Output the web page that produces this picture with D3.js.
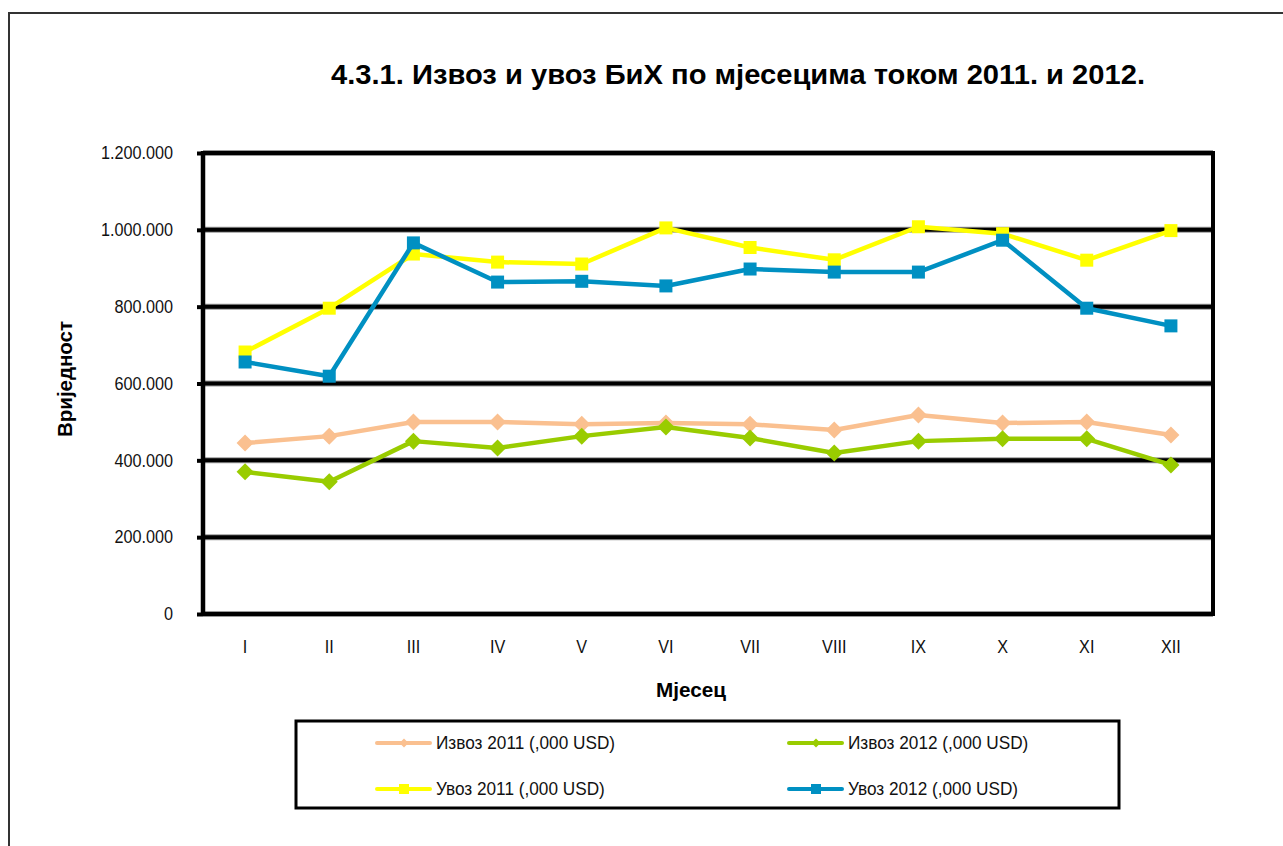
<!DOCTYPE html>
<html>
<head>
<meta charset="utf-8">
<script src="https://cdn.jsdelivr.net/npm/d3@7"></script>
<style>
  body { margin: 0; background: #fff; }
  svg { display: block; font-family: "Liberation Sans", Arial, sans-serif; }
</style>
</head>
<body>
<div id="chart"></div>
<script>
// months (roman numerals) and series values, in ,000 USD
var months = ["I", "II", "III", "IV", "V", "VI", "VII", "VIII", "IX", "X", "XI", "XII"];
var izvoz2011 = [445, 463, 500, 500, 494, 497, 494, 479, 518, 497, 500, 466].map(function(v) { return v * 1000; });
var izvoz2012 = [370, 344, 450, 432, 463, 487, 458, 419, 450, 456, 456, 388].map(function(v) { return v * 1000; });
var uvoz2011 = [682, 796, 937, 916, 911, 1005, 954, 922, 1008, 990, 921, 998].map(function(v) { return v * 1000; });
var uvoz2012 = [656, 619, 966, 864, 866, 854, 898, 890, 890, 973, 796, 750].map(function(v) { return v * 1000; });
var yTicks = [0, 200000, 400000, 600000, 800000, 1000000, 1200000];

var series = [
  { name: "Извоз 2011 (,000 USD)", values: izvoz2011, color: "#FAC090", marker: "diamond" },
  { name: "Извоз 2012 (,000 USD)", values: izvoz2012, color: "#99CC00", marker: "diamond" },
  { name: "Увоз 2011 (,000 USD)", values: uvoz2011, color: "#FFFF00", marker: "square" },
  { name: "Увоз 2012 (,000 USD)", values: uvoz2012, color: "#0090C2", marker: "square" }
];

var W = 1283, H = 846;
var plot = { left: 203, right: 1213, top: 153, bottom: 614 };

var locale = d3.formatLocale({ decimal: ",", thousands: ".", grouping: [3], currency: ["", ""] });
var fmt = locale.format(",d");

// the source font is a bit taller and narrower than Arial, squeeze it
function condense(sel, k) {
  sel.each(function() {
    var len = this.getComputedTextLength();
    d3.select(this).attr("textLength", len * k).attr("lengthAdjust", "spacingAndGlyphs");
  });
}

var svg = d3.select("#chart").append("svg")
    .attr("width", W)
    .attr("height", H);

// outer chart frame (runs off the right/bottom edge)
svg.append("rect")
    .attr("x", 9).attr("y", 13)
    .attr("width", W + 20).attr("height", H + 20)
    .attr("fill", "none")
    .attr("stroke", "#333")
    .attr("stroke-width", 2);

svg.append("text")
    .attr("x", 738).attr("y", 84)
    .attr("text-anchor", "middle")
    .attr("font-size", 27)
    .attr("font-weight", "bold")
    .attr("textLength", 814)
    .attr("lengthAdjust", "spacingAndGlyphs")
    .text("4.3.1. Извоз и увоз БиХ по мјесецима током 2011. и 2012.");

var x = d3.scaleBand().domain(months).range([plot.left, plot.right]);
var y = d3.scaleLinear().domain([0, 1200000]).range([plot.bottom, plot.top]);

// gridlines: grey halo under a heavy black rule
var grid = svg.append("g");
grid.selectAll("line.halo")
    .data(yTicks)
  .enter().append("line")
    .attr("class", "halo")
    .attr("x1", plot.left).attr("x2", plot.right)
    .attr("y1", function(d) { return y(d); })
    .attr("y2", function(d) { return y(d); })
    .attr("stroke", "#999").attr("stroke-width", 6);
grid.selectAll("line.rule")
    .data(yTicks)
  .enter().append("line")
    .attr("class", "rule")
    .attr("x1", plot.left).attr("x2", plot.right)
    .attr("y1", function(d) { return y(d); })
    .attr("y2", function(d) { return y(d); })
    .attr("stroke", "#000").attr("stroke-width", 4);

// right border of plot area
grid.append("line")
    .attr("x1", plot.right).attr("x2", plot.right)
    .attr("y1", plot.top - 2).attr("y2", plot.bottom + 2)
    .attr("stroke", "#000").attr("stroke-width", 4);

// y axis
var yAxis = svg.append("g")
    .attr("transform", "translate(" + plot.left + ",0)")
    .call(d3.axisLeft(y).tickValues(yTicks).tickFormat(fmt).tickSize(6).tickPadding(24));
yAxis.select(".domain")
    .attr("d", "M0," + (plot.top - 2) + "V" + (plot.bottom + 2))
    .attr("stroke", "#000").attr("stroke-width", 4.5);
yAxis.selectAll(".tick line").attr("stroke", "#000").attr("stroke-width", 4);
yAxis.selectAll(".tick text")
    .attr("font-family", "Liberation Sans, Arial, sans-serif")
    .attr("font-size", 18)
    .attr("fill", "#111")
    .call(condense, 0.9);

// x axis labels
var xAxis = svg.append("g")
    .attr("transform", "translate(0," + plot.bottom + ")")
    .call(d3.axisBottom(x).tickSize(0).tickPadding(26));
xAxis.select(".domain").remove();
xAxis.selectAll(".tick text")
    .attr("font-family", "Liberation Sans, Arial, sans-serif")
    .attr("font-size", 18)
    .attr("fill", "#111")
    .call(condense, 0.9);

svg.append("text")
    .attr("transform", "translate(72,379) rotate(-90)")
    .attr("text-anchor", "middle")
    .attr("font-size", 20)
    .attr("font-weight", "bold")
    .attr("textLength", 116)
    .attr("lengthAdjust", "spacingAndGlyphs")
    .text("Вриједност");

svg.append("text")
    .attr("x", 691).attr("y", 697)
    .attr("text-anchor", "middle")
    .attr("font-size", 20)
    .attr("font-weight", "bold")
    .attr("textLength", 70)
    .attr("lengthAdjust", "spacingAndGlyphs")
    .text("Мјесец");

function markerPath(type, s) {
  if (type === "diamond") return "M0," + (-s) + "L" + s + ",0L0," + s + "L" + (-s) + ",0Z";
  return "M" + (-s) + "," + (-s) + "H" + s + "V" + s + "H" + (-s) + "Z";
}

var line = d3.line()
    .x(function(d, i) { return x(months[i]) + x.bandwidth() / 2; })
    .y(function(d) { return y(d); });

series.forEach(function(s) {
  var g = svg.append("g");
  g.append("path")
      .attr("d", line(s.values))
      .attr("fill", "none")
      .attr("stroke", s.color)
      .attr("stroke-width", 4.5)
      .attr("stroke-linejoin", "round");
  g.selectAll("path.mk")
      .data(s.values)
    .enter().append("path")
      .attr("class", "mk")
      .attr("transform", function(d, i) {
        return "translate(" + (x(months[i]) + x.bandwidth() / 2) + "," + y(d) + ")";
      })
      .attr("d", markerPath(s.marker, s.marker === "diamond" ? 8.5 : 6.5))
      .attr("fill", s.color);
});

// legend
var legend = svg.append("g");
legend.append("rect")
    .attr("x", 296).attr("y", 721)
    .attr("width", 823).attr("height", 87)
    .attr("fill", "#fff")
    .attr("stroke", "#000")
    .attr("stroke-width", 3);

var legCols = [377, 789];
var legRows = [743, 789];
var item = legend.selectAll("g.item")
    .data(series)
  .enter().append("g")
    .attr("class", "item")
    .attr("transform", function(d, i) {
      return "translate(" + legCols[i % 2] + "," + legRows[Math.floor(i / 2)] + ")";
    });
item.append("line")
    .attr("x1", 0).attr("x2", 53)
    .attr("stroke", function(d) { return d.color; })
    .attr("stroke-width", 4)
    .attr("stroke-linecap", "round");
item.append("path")
    .attr("transform", "translate(27,0)")
    .attr("d", function(d) { return markerPath(d.marker, d.marker === "diamond" ? 4.5 : 5); })
    .attr("fill", function(d) { return d.color; });
item.append("text")
    .attr("x", 59).attr("dy", "0.35em")
    .attr("font-size", 18.5)
    .attr("fill", "#111")
    .text(function(d) { return d.name; })
    .call(condense, 0.93);
</script>
</body>
</html>
